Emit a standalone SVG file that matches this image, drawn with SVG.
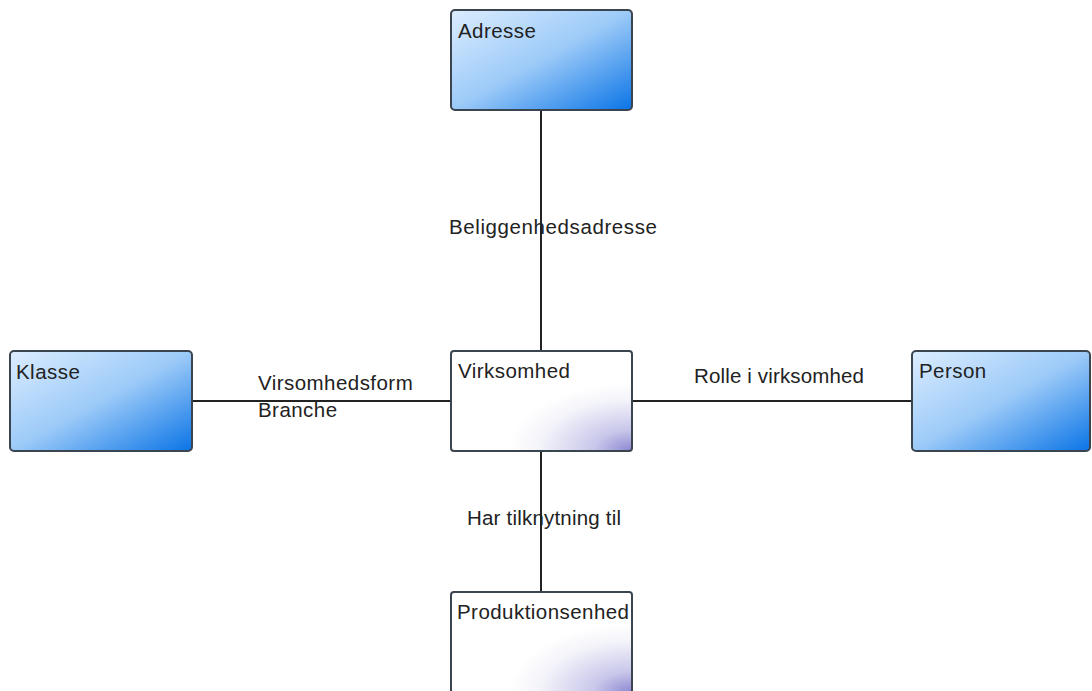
<svg xmlns="http://www.w3.org/2000/svg" width="1092" height="691" viewBox="0 0 1092 691">
<defs>
<linearGradient id="blue" x1="0" y1="0" x2="1" y2="1">
<stop offset="0" stop-color="#dcedff"/>
<stop offset="0.5" stop-color="#9ccaf8"/>
<stop offset="1" stop-color="#0a74e6"/>
</linearGradient>
<radialGradient id="white" cx="1" cy="1" r="0.85" fx="1" fy="1">
<stop offset="0" stop-color="#8a86d2"/>
<stop offset="0.25" stop-color="#c9c7ea"/>
<stop offset="0.6" stop-color="#f3f3fa"/>
<stop offset="0.8" stop-color="#ffffff"/>
<stop offset="1" stop-color="#ffffff"/>
</radialGradient>
</defs>
<style>
.box{stroke:#3b4550;stroke-width:2}
.b{fill:url(#blue)}
.w{fill:url(#white)}
text{font-family:"Liberation Sans",Arial,sans-serif;font-size:20.5px;letter-spacing:0.45px;fill:#222}
.edge{stroke:#222;stroke-width:2;fill:none}
</style>
<rect width="1092" height="691" fill="#ffffff"/>
<g id="connectors">
<line class="edge" x1="541" y1="110" x2="541" y2="351"/>
<line class="edge" x1="192" y1="401" x2="451" y2="401"/>
<line class="edge" x1="632" y1="401" x2="912" y2="401"/>
<line class="edge" x1="541" y1="451" x2="541" y2="592"/>
<text x="449" y="234" style="letter-spacing:0.6px">Beliggenhedsadresse</text>
<text x="258" y="390">Virsomhedsform</text>
<text x="258" y="417">Branche</text>
<text x="694" y="383" style="letter-spacing:0.15px">Rolle i virksomhed</text>
<text x="467" y="525" style="letter-spacing:0.2px">Har tilknytning til</text>
</g>
<g id="adresse">
<rect class="box b" x="451" y="10" width="181" height="100" rx="4"/>
<text x="458" y="38">Adresse</text>
</g>
<g id="klasse">
<rect class="box b" x="10" y="351" width="182" height="100" rx="4"/>
<text x="16" y="379">Klasse</text>
</g>
<g id="virksomhed">
<rect class="box w" x="451" y="351" width="181" height="100" rx="3"/>
<text x="458" y="378">Virksomhed</text>
</g>
<g id="person">
<rect class="box b" x="912" y="351" width="178" height="100" rx="4"/>
<text x="919" y="378">Person</text>
</g>
<g id="produktionsenhed">
<rect class="box w" x="451" y="592" width="181" height="101" rx="3"/>
<text x="457" y="619">Produktionsenhed</text>
</g>
</svg>
